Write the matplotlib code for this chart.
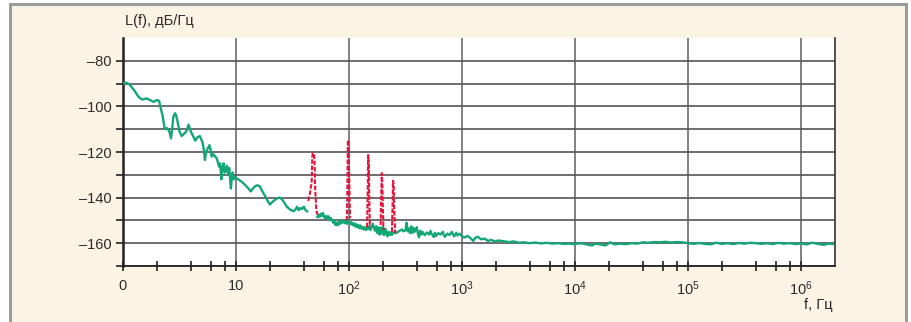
import numpy as np
import matplotlib
matplotlib.use("Agg")
import matplotlib.pyplot as plt
from matplotlib.patches import Rectangle
from matplotlib.ticker import FixedLocator, NullFormatter

plt.rcParams['font.family'] = ['Liberation Sans Narrow', 'Liberation Sans', 'DejaVu Sans']
plt.rcParams['mathtext.default'] = 'regular'

# phase noise spectrum, log10(f) and L(f) in dB/Hz
noise_lgf = [
    0.00, 0.03, 0.06, 0.10, 0.14, 0.17, 0.21, 0.25, 0.27, 0.30, 0.32, 0.33, 0.35, 0.37, 0.39,
    0.41, 0.425, 0.435, 0.445, 0.46, 0.47, 0.48, 0.50, 0.52, 0.53, 0.56, 0.58, 0.60, 0.62, 0.64,
    0.66, 0.68, 0.705, 0.715, 0.725, 0.735, 0.745, 0.765, 0.775, 0.785, 0.80, 0.83, 0.85, 0.86,
    0.87, 0.88, 0.89, 0.90, 0.91, 0.92, 0.93, 0.94, 0.955, 0.965, 0.97, 0.98, 0.99, 1.02, 1.05,
    1.08, 1.11, 1.13, 1.15, 1.17, 1.19, 1.21, 1.23, 1.26, 1.28, 1.30, 1.32, 1.345, 1.37, 1.39,
    1.41, 1.43, 1.45, 1.48, 1.51, 1.53, 1.54, 1.555, 1.57, 1.585, 1.60, 1.615, 1.63,
    1.64, 1.72,
    1.72, 1.73, 1.74, 1.75, 1.76, 1.77, 1.78, 1.79, 1.80, 1.81, 1.82, 1.83, 1.84, 1.85, 1.86,
    1.87, 1.88, 1.89, 1.90, 1.91, 1.92, 1.93, 1.94, 1.95, 1.96, 1.97, 1.98, 1.99, 2.00, 2.01,
    2.02, 2.03, 2.04, 2.05, 2.06, 2.07, 2.08, 2.09, 2.10, 2.11, 2.12, 2.13, 2.14, 2.15, 2.16,
    2.17, 2.18, 2.19, 2.20, 2.21, 2.22, 2.23, 2.24, 2.25, 2.26, 2.27, 2.28, 2.29, 2.30, 2.31,
    2.32, 2.33, 2.34, 2.35, 2.36, 2.37, 2.38, 2.39, 2.40, 2.41, 2.43, 2.45, 2.47, 2.48, 2.50,
    2.51, 2.52, 2.53, 2.54, 2.55, 2.56, 2.57, 2.58, 2.59, 2.60, 2.61, 2.62, 2.63, 2.64, 2.65,
    2.67, 2.69, 2.71, 2.72, 2.73, 2.75, 2.76, 2.77, 2.79, 2.81, 2.83, 2.84, 2.85, 2.87, 2.89,
    2.91, 2.93, 2.95, 2.96, 2.98, 3.00, 3.02, 3.05, 3.08, 3.10, 3.12, 3.14, 3.17, 3.20, 3.23,
    3.26, 3.29, 3.32, 3.35, 3.38, 3.42, 3.46, 3.50, 3.55, 3.60, 3.65, 3.70, 3.75, 3.80, 3.85,
    3.90, 3.95, 4.00, 4.05, 4.10, 4.15, 4.18, 4.22, 4.27, 4.31, 4.35, 4.40, 4.45, 4.50, 4.55,
    4.60, 4.65, 4.70, 4.75, 4.80, 4.85, 4.90, 4.95, 5.00, 5.05, 5.10, 5.15, 5.20, 5.25, 5.30,
    5.35, 5.40, 5.45, 5.50, 5.55, 5.60, 5.65, 5.70, 5.75, 5.80, 5.85, 5.90, 5.95, 6.00, 6.05,
    6.10, 6.15, 6.20, 6.25, 6.28,
]
noise_db = [
    -90.0, -89.6, -90.5, -93, -96, -97, -96.5, -97.5, -98, -97.2, -97.6, -100, -104, -110, -109.5,
    -111, -114, -110, -104.6, -103, -104, -106, -111, -113, -112.5, -111, -108, -111, -113, -115,
    -113.5, -113, -116, -119, -123.5, -120, -119, -117, -119, -122, -121, -122.8, -126.4, -125,
    -132, -127, -125, -129, -128, -126, -130, -127, -136, -130, -129, -132, -131, -132, -133,
    -134.4, -136, -137.3, -136, -135, -134.6, -135, -137, -139.5, -141.5, -143, -142, -141, -140.2, -140,
    -141, -142.4, -144, -145.3, -146, -145, -144, -145.5, -144.6, -145, -144, -145.5, -146,
    np.nan, np.nan,
    -148.5, -147.5, -148.5, -147, -148, -146.8, -148.5, -149.2, -148, -149, -148.2, -150, -149, -149.8, -151,
    -150.2, -152, -151, -152.2, -150.5, -151.5, -150.3, -151, -149.8, -151.2, -150.5, -151.5, -150, -150.6, -151.6,
    -150.8, -152, -151.2, -152.6, -151.5, -153, -152, -153.4, -152.2, -153.6, -152.8, -154, -153, -154.2, -152.8,
    -153.8, -152.4, -154.2, -152.8, -151.4, -153.2, -154.5, -152.6, -155.5, -153, -156.2, -153.2, -155.8, -152.8, -156.5,
    -153.6, -155.2, -157, -155, -156.4, -155.2, -156.4, -155.6, -155, -155.6, -155.2, -154.5, -154, -154.8, -154.4,
    -151, -154.8, -153.6, -155.6, -152.6, -155.5, -153.2, -155, -154, -153, -156, -157.4, -154.5, -156.2, -155,
    -156.5, -155.3, -156.2, -154.6, -155.8, -157.3, -155.4, -156.8, -155.6, -156.2, -155, -156.6, -157.2, -155.8, -156.4,
    -155, -157, -155.4, -156.6, -155.8, -157, -157.5, -156.8, -158, -159, -157.5, -157.2, -158.3, -158, -159,
    -158.5, -159.3, -158.8, -159, -159.2, -159.5, -159.2, -159.8, -159.6, -160, -159.7, -160.1, -159.8, -160.2, -160,
    -160.3, -160.2, -160.4, -160, -160.5, -161, -160.2, -160.5, -161, -159.6, -160.5, -160.2, -160.4, -160, -160.2,
    -159.6, -159.8, -159.5, -159.6, -159.4, -159.7, -159.5, -159.6, -160, -160.3, -159.9, -160.3, -160.5, -159.8, -160.3,
    -160, -160.4, -159.9, -160.2, -159.8, -160, -160.3, -160, -160.4, -159.9, -160.2, -160, -160.4, -160.1, -160.5,
    -159.8, -160.3, -160.7, -160.2, -160.4,
]

# mains harmonics (50, 100, 150, 200, 250 Hz), separated by gaps
spur_lgf = [
    1.64, 1.655, 1.67, 1.675, 1.68, 1.69, 1.695, 1.70, 1.71, 1.72, np.nan,
    1.98, 1.985, 1.99, 1.995, 2.0, 2.005, 2.01, np.nan,
    2.16, 2.165, 2.17, 2.175, 2.18, 2.185, np.nan,
    2.28, 2.285, 2.29, 2.295, 2.30, 2.305, np.nan,
    2.38, 2.385, 2.39, 2.395, 2.40, 2.41,
]
spur_db = [
    -141.5, -138, -133, -122, -120.5, -121, -124, -135, -145, -147.5, np.nan,
    -150, -140, -114.8, -115, -126, -140, -149, np.nan,
    -153, -140, -121.3, -125, -141, -153, np.nan,
    -152, -140, -129.3, -135, -145, -154, np.nan,
    -155, -145, -132.6, -134, -145, -155.5,
]

decade_labels = ['0', '10', '$10^2$', '$10^3$', '$10^4$', '$10^5$', '$10^6$']

green = '#14a673'
red = '#e8123a'
txt = '#2b2b2b'

fig = plt.figure(figsize=(9.12, 3.22), dpi=100, facecolor='white')
fig.patches.append(Rectangle((10 / 912, -0.01), 896 / 912, 1 - 4 / 322 + 0.01,
                             transform=fig.transFigure, facecolor='#fbf3e4',
                             edgecolor='#9c9c9c', linewidth=2.2, zorder=-5))

ax = fig.add_axes([123 / 912, 56 / 322, 712 / 912, 228 / 322], zorder=2)
ax.set_facecolor('white')

f_noise = 10 ** np.array(noise_lgf)
f_spur = 10 ** np.array(spur_lgf, dtype=float)
ax.plot(f_noise, noise_db, color=green, lw=1.7, zorder=3)
ax.plot(f_spur, spur_db, color=red, lw=1.5, ls=(0, (2.2, 0.8)), zorder=4)

ax.set_xscale('log')
ax.set_xlim(1, 2.0e6)
ax.set_ylim(-170, -70)

major_x = [10.0 ** k for k in range(7)]
minor_x = [m * 10.0 ** k for k in range(7) for m in (2, 4, 6, 8) if m * 10.0 ** k < 2.0e6]
ax.xaxis.set_major_locator(FixedLocator(major_x))
ax.xaxis.set_minor_locator(FixedLocator(minor_x))
ax.set_xticklabels(decade_labels)
ax.xaxis.set_minor_formatter(NullFormatter())

ax.set_yticks(np.arange(-160, -79, 20))
ax.set_yticklabels(['\u2013' + str(-v) for v in range(-160, -79, 20)])
ax.yaxis.set_minor_locator(FixedLocator(np.arange(-170, -79, 20)))

ax.grid(True, axis='y', which='both', color='#555555', lw=1.2, zorder=1)
ax.grid(True, axis='x', which='major', color='#777777', lw=1.3, zorder=1)
ax.set_axisbelow(True)

ax.spines['top'].set_visible(False)
ax.spines['left'].set_color('#222222')
ax.spines['left'].set_linewidth(1.8)
ax.spines['bottom'].set_color('#222222')
ax.spines['bottom'].set_linewidth(1.3)
ax.spines['right'].set_color('#333333')
ax.spines['right'].set_linewidth(1.2)

ax.tick_params(axis='x', which='both', direction='inout', length=7, width=1.2,
               color='#222222', labelcolor=txt, labelsize=10.5, pad=6)
ax.tick_params(axis='y', which='both', direction='out', length=5, width=1.2,
               color='#222222', labelcolor=txt, labelsize=10.5, pad=3)

fig.text(125 / 912, 1 - 21 / 322, 'L(f), дБ/Гц', color=txt, fontsize=10.5,
         ha='left', va='center')
fig.text(833 / 912, 1 - 305 / 322, 'f, Гц', color=txt, fontsize=10.5,
         ha='right', va='center')

fig.savefig('out.png', dpi=100, facecolor=fig.get_facecolor())
